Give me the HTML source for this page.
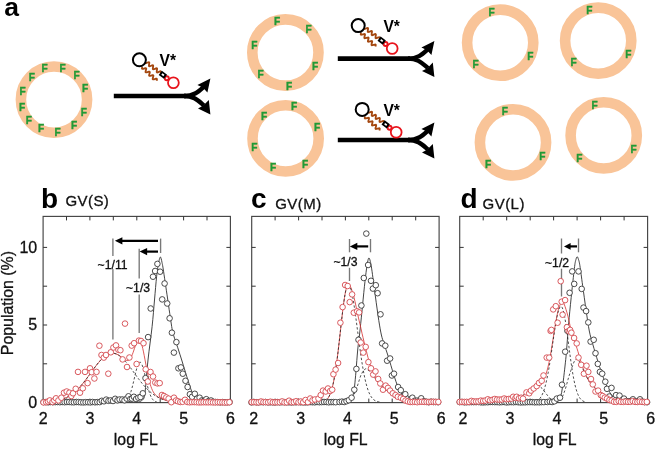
<!DOCTYPE html>
<html lang="en"><head><meta charset="utf-8"><title>Figure</title>
<style>html,body{margin:0;padding:0;background:#fff}body{width:655px;height:449px;overflow:hidden}svg{display:block}text{font-family:'Liberation Sans', Arial, Helvetica, sans-serif;fill:#111}.tk,.tt,.xl,.an,.yl{stroke:#111;stroke-width:0.3px}.F{font-size:10.2px;font-weight:bold;fill:#219A36;stroke:#219A36;stroke-width:0.35px;text-anchor:middle}.pl{font-size:28px;font-weight:bold;fill:#000}.tt{font-size:15px;letter-spacing:0.45px}.tk{font-size:16px}.xl{font-size:15.8px}.an{font-size:12.2px}</style>
</head><body>
<svg width="655" height="449" viewBox="0 0 655 449">
<rect width="655" height="449" fill="#fff"/>
<text x="4.2" y="16.2" class="pl" style="font-size:26.5px">a</text>
<circle cx="54.0" cy="99.6" r="33.1" fill="none" stroke="#F9C498" stroke-width="10.6"/>
<text x="44.6" y="71.5" class="F">F</text>
<text x="62.5" y="71.5" class="F">F</text>
<text x="76.7" y="79.2" class="F">F</text>
<text x="85.0" y="92.2" class="F">F</text>
<text x="83.8" y="115.5" class="F">F</text>
<text x="74.0" y="128.8" class="F">F</text>
<text x="57.6" y="136.2" class="F">F</text>
<text x="41.2" y="132.4" class="F">F</text>
<text x="28.9" y="123.5" class="F">F</text>
<text x="22.0" y="111.2" class="F">F</text>
<text x="22.5" y="95.2" class="F">F</text>
<text x="31.9" y="81.0" class="F">F</text>
<circle cx="285.4" cy="52.5" r="33.1" fill="none" stroke="#F9C498" stroke-width="10.6"/>
<text x="277.1" y="25.4" class="F">F</text>
<text x="308.7" y="33.2" class="F">F</text>
<text x="254.4" y="48.9" class="F">F</text>
<text x="315.2" y="69.5" class="F">F</text>
<text x="260.5" y="78.2" class="F">F</text>
<text x="289.1" y="90.0" class="F">F</text>
<circle cx="285.6" cy="138.4" r="33.1" fill="none" stroke="#F9C498" stroke-width="10.6"/>
<text x="294.1" y="110.2" class="F">F</text>
<text x="264.1" y="119.5" class="F">F</text>
<text x="317.2" y="131.2" class="F">F</text>
<text x="254.4" y="151.2" class="F">F</text>
<text x="305.1" y="167.9" class="F">F</text>
<text x="273.1" y="171.3" class="F">F</text>
<circle cx="500.2" cy="42.7" r="33.1" fill="none" stroke="#F9C498" stroke-width="10.6"/>
<text x="491.6" y="16.2" class="F">F</text>
<text x="530.4" y="60.0" class="F">F</text>
<text x="475.7" y="68.0" class="F">F</text>
<circle cx="598.2" cy="40.7" r="33.1" fill="none" stroke="#F9C498" stroke-width="10.6"/>
<text x="589.3" y="14.1" class="F">F</text>
<text x="628.4" y="57.9" class="F">F</text>
<text x="573.6" y="66.3" class="F">F</text>
<circle cx="513.0" cy="142.4" r="33.1" fill="none" stroke="#F9C498" stroke-width="10.6"/>
<text x="504.8" y="115.3" class="F">F</text>
<text x="542.3" y="160.2" class="F">F</text>
<text x="488.2" y="167.9" class="F">F</text>
<circle cx="603.7" cy="135.4" r="33.1" fill="none" stroke="#F9C498" stroke-width="10.6"/>
<text x="594.6" y="108.5" class="F">F</text>
<text x="633.7" y="152.9" class="F">F</text>
<text x="579.3" y="161.7" class="F">F</text>
<g transform="translate(0.0 0.0)">
<path d="M113.8 96 H186 " stroke="#000" stroke-width="4.6" fill="none"/>
<path d="M184 96 C194 96 198 92 203.5 87" stroke="#000" stroke-width="4.4" fill="none"/>
<path d="M184 96 C194 96 198 100.5 204 105.5" stroke="#000" stroke-width="4.4" fill="none"/>
<path d="M210.4 78.4 L197.4 85 L202.8 87.4 L207.4 92.4 Z" fill="#000"/>
<path d="M210.4 114.5 L198 108.4 L203.4 105.6 L208.8 100 Z" fill="#000"/>
</g>
<g transform="translate(0.0 0.0)">
<path d="M145.20 61.20 L145.01 62.25 L145.04 63.01 L145.43 63.31 L146.18 63.16 L147.15 62.73 L148.12 62.29 L148.87 62.14 L149.26 62.44 L149.29 63.20 L149.10 64.25 L148.91 65.30 L148.94 66.06 L149.33 66.36 L150.08 66.21 L151.05 65.78 L152.02 65.34 L152.77 65.19 L153.16 65.49 L153.19 66.25 L153.00 67.30 L152.81 68.35 L152.84 69.11 L153.23 69.41 L153.98 69.26 L154.95 68.83 L155.92 68.39 L156.67 68.24 L157.06 68.54 L157.09 69.30 L156.90 70.35 L156.71 71.40 L156.74 72.16 L157.13 72.46 L157.88 72.31 L158.85 71.88 L159.82 71.44 L160.57 71.29 L160.96 71.59 L160.99 72.35 L160.80 73.40" stroke="#A4470F" stroke-width="1.8" fill="none"/>
<path d="M142.30 66.80 L142.00 67.82 L141.95 68.59 L142.31 68.94 L143.07 68.87 L144.09 68.55 L145.10 68.23 L145.87 68.16 L146.22 68.51 L146.18 69.28 L145.88 70.30 L145.57 71.32 L145.53 72.09 L145.88 72.44 L146.65 72.37 L147.66 72.05 L148.68 71.73 L149.44 71.66 L149.80 72.01 L149.75 72.78 L149.45 73.80 L149.15 74.82 L149.10 75.59 L149.46 75.94 L150.22 75.87 L151.24 75.55 L152.25 75.23 L153.02 75.16 L153.37 75.51 L153.33 76.28 L153.03 77.30 L152.72 78.32 L152.68 79.09 L153.03 79.44 L153.80 79.37 L154.81 79.05 L155.83 78.73 L156.59 78.66 L156.95 79.01 L156.90 79.78 L156.60 80.80" stroke="#A4470F" stroke-width="1.8" fill="none"/>
<circle cx="139.4" cy="59.8" r="6.5" fill="#fff" stroke="#000" stroke-width="2"/>
<circle cx="166.8" cy="78.2" r="2.0" fill="none" stroke="#E8141C" stroke-width="1.9"/>
<circle cx="173.4" cy="82.7" r="5.4" fill="#fff" stroke="#E8141C" stroke-width="1.8"/>
<g transform="translate(162.9 74.8) rotate(37)"><rect x="-3.3" y="-2.6" width="6.6" height="5.2" fill="#000"/><rect x="-1.3" y="-0.9" width="2.6" height="1.8" fill="#fff"/></g>
</g>
<text x="159.6" y="65.8" style="font-size:15.6px;font-weight:bold;fill:#000">V*</text>
<g transform="translate(224.0 -37.4)">
<path d="M113.8 96 H186 " stroke="#000" stroke-width="4.6" fill="none"/>
<path d="M184 96 C194 96 198 92 203.5 87" stroke="#000" stroke-width="4.4" fill="none"/>
<path d="M184 96 C194 96 198 100.5 204 105.5" stroke="#000" stroke-width="4.4" fill="none"/>
<path d="M210.4 78.4 L197.4 85 L202.8 87.4 L207.4 92.4 Z" fill="#000"/>
<path d="M210.4 114.5 L198 108.4 L203.4 105.6 L208.8 100 Z" fill="#000"/>
</g>
<g transform="translate(218.8 -34.2)">
<path d="M145.20 61.20 L145.01 62.25 L145.04 63.01 L145.43 63.31 L146.18 63.16 L147.15 62.73 L148.12 62.29 L148.87 62.14 L149.26 62.44 L149.29 63.20 L149.10 64.25 L148.91 65.30 L148.94 66.06 L149.33 66.36 L150.08 66.21 L151.05 65.78 L152.02 65.34 L152.77 65.19 L153.16 65.49 L153.19 66.25 L153.00 67.30 L152.81 68.35 L152.84 69.11 L153.23 69.41 L153.98 69.26 L154.95 68.83 L155.92 68.39 L156.67 68.24 L157.06 68.54 L157.09 69.30 L156.90 70.35 L156.71 71.40 L156.74 72.16 L157.13 72.46 L157.88 72.31 L158.85 71.88 L159.82 71.44 L160.57 71.29 L160.96 71.59 L160.99 72.35 L160.80 73.40" stroke="#A4470F" stroke-width="1.8" fill="none"/>
<path d="M142.30 66.80 L142.00 67.82 L141.95 68.59 L142.31 68.94 L143.07 68.87 L144.09 68.55 L145.10 68.23 L145.87 68.16 L146.22 68.51 L146.18 69.28 L145.88 70.30 L145.57 71.32 L145.53 72.09 L145.88 72.44 L146.65 72.37 L147.66 72.05 L148.68 71.73 L149.44 71.66 L149.80 72.01 L149.75 72.78 L149.45 73.80 L149.15 74.82 L149.10 75.59 L149.46 75.94 L150.22 75.87 L151.24 75.55 L152.25 75.23 L153.02 75.16 L153.37 75.51 L153.33 76.28 L153.03 77.30 L152.72 78.32 L152.68 79.09 L153.03 79.44 L153.80 79.37 L154.81 79.05 L155.83 78.73 L156.59 78.66 L156.95 79.01 L156.90 79.78 L156.60 80.80" stroke="#A4470F" stroke-width="1.8" fill="none"/>
<circle cx="139.4" cy="59.8" r="6.5" fill="#fff" stroke="#000" stroke-width="2"/>
<circle cx="166.8" cy="78.2" r="2.0" fill="none" stroke="#E8141C" stroke-width="1.9"/>
<circle cx="173.4" cy="82.7" r="5.4" fill="#fff" stroke="#E8141C" stroke-width="1.8"/>
<g transform="translate(162.9 74.8) rotate(37)"><rect x="-3.3" y="-2.6" width="6.6" height="5.2" fill="#000"/><rect x="-1.3" y="-0.9" width="2.6" height="1.8" fill="#fff"/></g>
</g>
<text x="383.4" y="32.0" style="font-size:15.6px;font-weight:bold;fill:#000">V*</text>
<g transform="translate(224.0 44.0)">
<path d="M113.8 96 H186 " stroke="#000" stroke-width="4.6" fill="none"/>
<path d="M184 96 C194 96 198 92 203.5 87" stroke="#000" stroke-width="4.4" fill="none"/>
<path d="M184 96 C194 96 198 100.5 204 105.5" stroke="#000" stroke-width="4.4" fill="none"/>
<path d="M210.4 78.4 L197.4 85 L202.8 87.4 L207.4 92.4 Z" fill="#000"/>
<path d="M210.4 114.5 L198 108.4 L203.4 105.6 L208.8 100 Z" fill="#000"/>
</g>
<g transform="translate(222.8 49.6)">
<path d="M145.20 61.20 L145.01 62.25 L145.04 63.01 L145.43 63.31 L146.18 63.16 L147.15 62.73 L148.12 62.29 L148.87 62.14 L149.26 62.44 L149.29 63.20 L149.10 64.25 L148.91 65.30 L148.94 66.06 L149.33 66.36 L150.08 66.21 L151.05 65.78 L152.02 65.34 L152.77 65.19 L153.16 65.49 L153.19 66.25 L153.00 67.30 L152.81 68.35 L152.84 69.11 L153.23 69.41 L153.98 69.26 L154.95 68.83 L155.92 68.39 L156.67 68.24 L157.06 68.54 L157.09 69.30 L156.90 70.35 L156.71 71.40 L156.74 72.16 L157.13 72.46 L157.88 72.31 L158.85 71.88 L159.82 71.44 L160.57 71.29 L160.96 71.59 L160.99 72.35 L160.80 73.40" stroke="#A4470F" stroke-width="1.8" fill="none"/>
<path d="M142.30 66.80 L142.00 67.82 L141.95 68.59 L142.31 68.94 L143.07 68.87 L144.09 68.55 L145.10 68.23 L145.87 68.16 L146.22 68.51 L146.18 69.28 L145.88 70.30 L145.57 71.32 L145.53 72.09 L145.88 72.44 L146.65 72.37 L147.66 72.05 L148.68 71.73 L149.44 71.66 L149.80 72.01 L149.75 72.78 L149.45 73.80 L149.15 74.82 L149.10 75.59 L149.46 75.94 L150.22 75.87 L151.24 75.55 L152.25 75.23 L153.02 75.16 L153.37 75.51 L153.33 76.28 L153.03 77.30 L152.72 78.32 L152.68 79.09 L153.03 79.44 L153.80 79.37 L154.81 79.05 L155.83 78.73 L156.59 78.66 L156.95 79.01 L156.90 79.78 L156.60 80.80" stroke="#A4470F" stroke-width="1.8" fill="none"/>
<circle cx="139.4" cy="59.8" r="6.5" fill="#fff" stroke="#000" stroke-width="2"/>
<circle cx="166.8" cy="78.2" r="2.0" fill="none" stroke="#E8141C" stroke-width="1.9"/>
<circle cx="173.4" cy="82.7" r="5.4" fill="#fff" stroke="#E8141C" stroke-width="1.8"/>
<g transform="translate(162.9 74.8) rotate(37)"><rect x="-3.3" y="-2.6" width="6.6" height="5.2" fill="#000"/><rect x="-1.3" y="-0.9" width="2.6" height="1.8" fill="#fff"/></g>
</g>
<text x="383.4" y="115.9" style="font-size:15.6px;font-weight:bold;fill:#000">V*</text>
<g>
<path d="M112.9 238.6 V339.6" stroke="#787878" stroke-width="1.35" fill="none"/><path d="M139.2 248.8 V333.0" stroke="#787878" stroke-width="1.35" fill="none"/><path d="M160.6 238.6 V253.0" stroke="#787878" stroke-width="1.35" fill="none"/><path d="M158.0 240.8 H121.4" stroke="#000" stroke-width="2.2" fill="none"/><path d="M114.9 240.8 L122.4 237.2 L122.4 244.4 Z" fill="#000"/><path d="M158.0 251.6 H146.1" stroke="#000" stroke-width="2.2" fill="none"/><path d="M139.6 251.6 L147.1 248.0 L147.1 255.2 Z" fill="#000"/><rect x="96.5" y="256" width="32" height="13.2" fill="#fff"/><rect x="124.5" y="278.5" width="26" height="16" fill="#fff"/><text x="97.6" y="269.3" class="an">~1/11</text><text x="126" y="291.6" class="an">~1/3</text>
<path d="M138.00 402.20 C138.50 402.00 140.00 401.70 141.00 401.00 C142.00 400.30 143.28 399.83 144.00 398.00 C144.72 396.17 144.63 396.33 145.30 390.00 C145.97 383.67 146.87 370.57 148.00 360.00 C149.13 349.43 151.02 336.60 152.10 326.60 C153.18 316.60 153.75 308.32 154.50 300.00 C155.25 291.68 155.95 282.70 156.60 276.70 C157.25 270.70 157.93 266.90 158.40 264.00 C158.87 261.10 159.08 260.47 159.40 259.30 C159.72 258.13 160.00 257.08 160.30 257.00 C160.60 256.92 160.92 257.88 161.20 258.80 C161.48 259.72 161.67 260.80 162.00 262.50 C162.33 264.20 162.28 263.08 163.20 269.00 C164.12 274.92 166.08 288.40 167.50 298.00 C168.92 307.60 170.68 320.38 171.70 326.60 C172.72 332.82 172.58 331.77 173.60 335.30 C174.62 338.83 176.40 343.52 177.80 347.80 C179.20 352.08 180.52 356.25 182.00 361.00 C183.48 365.75 185.45 372.30 186.70 376.30 C187.95 380.30 188.60 382.32 189.50 385.00 C190.40 387.68 191.07 390.18 192.10 392.40 C193.13 394.62 194.22 396.87 195.70 398.30 C197.18 399.73 198.28 400.33 201.00 401.00 C203.72 401.67 210.17 402.08 212.00 402.30" fill="none" stroke="#222" stroke-width="0.85"/>
<path d="M46.00 402.09 C46.25 402.07 47.00 402.03 47.50 401.99 C48.00 401.95 48.50 401.91 49.00 401.87 C49.50 401.83 50.00 401.78 50.50 401.73 C51.00 401.68 51.50 401.62 52.00 401.56 C52.50 401.50 53.00 401.43 53.50 401.36 C54.00 401.29 54.50 401.21 55.00 401.12 C55.50 401.03 56.00 400.94 56.50 400.84 C57.00 400.74 57.50 400.63 58.00 400.52 C58.50 400.40 59.00 400.27 59.50 400.14 C60.00 400.00 60.50 399.86 61.00 399.70 C61.50 399.55 62.00 399.38 62.50 399.20 C63.00 399.02 63.50 398.83 64.00 398.63 C64.50 398.43 65.00 398.21 65.50 397.98 C66.00 397.75 66.50 397.51 67.00 397.25 C67.50 396.99 68.00 396.72 68.50 396.43 C69.00 396.14 69.50 395.84 70.00 395.51 C70.50 395.19 71.00 394.85 71.50 394.50 C72.00 394.15 72.50 393.77 73.00 393.38 C73.50 392.99 74.00 392.59 74.50 392.16 C75.00 391.74 75.50 391.29 76.00 390.83 C76.50 390.37 77.00 389.89 77.50 389.40 C78.00 388.90 78.50 388.39 79.00 387.86 C79.50 387.33 80.00 386.78 80.50 386.22 C81.00 385.65 81.50 385.07 82.00 384.48 C82.50 383.89 83.00 383.28 83.50 382.65 C84.00 382.03 84.50 381.39 85.00 380.75 C85.50 380.10 86.00 379.44 86.50 378.78 C87.00 378.11 87.50 377.43 88.00 376.75 C88.50 376.07 89.00 375.38 89.50 374.69 C90.00 374.00 90.50 373.30 91.00 372.60 C91.50 371.91 92.00 371.21 92.50 370.52 C93.00 369.83 93.50 369.14 94.00 368.46 C94.50 367.78 95.00 367.10 95.50 366.44 C96.00 365.78 96.50 365.13 97.00 364.49 C97.50 363.85 98.00 363.23 98.50 362.63 C99.00 362.02 99.50 361.44 100.00 360.87 C100.50 360.31 101.00 359.77 101.50 359.26 C102.00 358.74 102.50 358.25 103.00 357.79 C103.50 357.34 104.00 356.90 104.50 356.51 C105.00 356.11 105.50 355.74 106.00 355.41 C106.50 355.08 107.00 354.78 107.50 354.53 C108.00 354.27 108.50 354.04 109.00 353.86 C109.50 353.68 110.00 353.53 110.50 353.42 C111.00 353.32 111.50 353.25 112.00 353.22 C112.50 353.20 113.00 353.21 113.50 353.26 C114.00 353.32 114.50 353.41 115.00 353.54 C115.50 353.67 116.00 353.84 116.50 354.05 C117.00 354.26 117.50 354.50 118.00 354.78 C118.50 355.05 119.00 355.37 119.50 355.70 C120.00 356.04 120.50 356.41 121.00 356.79 C121.50 357.16 122.00 357.57 122.50 357.96 C123.00 358.34 123.50 358.75 124.00 359.10 C124.50 359.45 125.00 359.80 125.50 360.03 C126.00 360.27 126.50 360.48 127.00 360.51 C127.50 360.55 128.00 360.50 128.50 360.24 C129.00 359.97 129.50 359.57 130.00 358.93 C130.50 358.29 131.00 357.44 131.50 356.41 C132.00 355.38 132.50 354.10 133.00 352.76 C133.50 351.43 134.00 349.86 134.50 348.42 C135.00 346.98 135.50 345.40 136.00 344.15 C136.50 342.91 137.00 341.68 137.50 340.95 C138.00 340.22 138.50 339.73 139.00 339.78 C139.50 339.83 140.00 340.30 140.50 341.25 C141.00 342.20 141.50 343.68 142.00 345.46 C142.50 347.24 143.00 349.54 143.50 351.92 C144.00 354.30 144.50 357.07 145.00 359.72 C145.50 362.38 146.00 365.23 146.50 367.84 C147.00 370.44 147.50 373.05 148.00 375.36 C148.50 377.68 149.00 379.84 149.50 381.73 C150.00 383.62 150.50 385.28 151.00 386.73 C151.50 388.18 152.00 389.37 152.50 390.43 C153.00 391.49 153.50 392.32 154.00 393.08 C154.50 393.83 155.00 394.42 155.50 394.95 C156.00 395.49 156.50 395.91 157.00 396.31 C157.50 396.71 158.00 397.03 158.50 397.33 C159.00 397.64 159.50 397.89 160.00 398.14 C160.50 398.38 161.00 398.60 161.50 398.80 C162.00 399.01 162.50 399.19 163.00 399.37 C163.50 399.54 164.00 399.70 164.50 399.85 C165.00 400.00 165.50 400.14 166.00 400.27 C166.50 400.40 167.00 400.52 167.50 400.63 C168.00 400.74 168.50 400.84 169.00 400.94 C169.50 401.04 170.00 401.12 170.50 401.20 C171.00 401.29 171.50 401.36 172.00 401.43 C172.50 401.50 173.00 401.56 173.50 401.62 C174.00 401.68 174.50 401.73 175.00 401.78 C175.50 401.83 176.00 401.87 176.50 401.91 C177.00 401.95 177.50 401.99 178.00 402.02 C178.50 402.06 179.25 402.10 179.50 402.12" fill="none" stroke="#D83A3A" stroke-width="0.85"/>
<path d="M46.00 402.09 C46.25 402.07 47.00 402.03 47.50 401.99 C48.00 401.95 48.50 401.91 49.00 401.87 C49.50 401.83 50.00 401.78 50.50 401.73 C51.00 401.68 51.50 401.62 52.00 401.56 C52.50 401.50 53.00 401.43 53.50 401.36 C54.00 401.29 54.50 401.21 55.00 401.12 C55.50 401.03 56.00 400.94 56.50 400.84 C57.00 400.74 57.50 400.63 58.00 400.52 C58.50 400.40 59.00 400.27 59.50 400.14 C60.00 400.00 60.50 399.86 61.00 399.70 C61.50 399.55 62.00 399.38 62.50 399.20 C63.00 399.02 63.50 398.83 64.00 398.63 C64.50 398.43 65.00 398.21 65.50 397.98 C66.00 397.75 66.50 397.51 67.00 397.25 C67.50 396.99 68.00 396.72 68.50 396.43 C69.00 396.14 69.50 395.84 70.00 395.51 C70.50 395.19 71.00 394.85 71.50 394.50 C72.00 394.15 72.50 393.77 73.00 393.38 C73.50 392.99 74.00 392.59 74.50 392.16 C75.00 391.74 75.50 391.29 76.00 390.83 C76.50 390.37 77.00 389.89 77.50 389.40 C78.00 388.90 78.50 388.39 79.00 387.86 C79.50 387.33 80.00 386.78 80.50 386.22 C81.00 385.65 81.50 385.07 82.00 384.48 C82.50 383.89 83.00 383.28 83.50 382.65 C84.00 382.03 84.50 381.39 85.00 380.75 C85.50 380.10 86.00 379.44 86.50 378.78 C87.00 378.11 87.50 377.43 88.00 376.75 C88.50 376.07 89.00 375.38 89.50 374.69 C90.00 374.00 90.50 373.30 91.00 372.60 C91.50 371.91 92.00 371.21 92.50 370.52 C93.00 369.83 93.50 369.14 94.00 368.46 C94.50 367.78 95.00 367.10 95.50 366.44 C96.00 365.78 96.50 365.13 97.00 364.49 C97.50 363.85 98.00 363.23 98.50 362.63 C99.00 362.02 99.50 361.44 100.00 360.87 C100.50 360.31 101.00 359.77 101.50 359.26 C102.00 358.74 102.50 358.25 103.00 357.79 C103.50 357.34 104.00 356.90 104.50 356.51 C105.00 356.11 105.50 355.74 106.00 355.41 C106.50 355.08 107.00 354.78 107.50 354.53 C108.00 354.27 108.50 354.04 109.00 353.86 C109.50 353.68 110.00 353.53 110.50 353.42 C111.00 353.32 111.50 353.25 112.00 353.22 C112.50 353.20 113.00 353.21 113.50 353.26 C114.00 353.32 114.50 353.41 115.00 353.54 C115.50 353.67 116.00 353.85 116.50 354.06 C117.00 354.26 117.50 354.51 118.00 354.80 C118.50 355.08 119.00 355.40 119.50 355.75 C120.00 356.11 120.50 356.50 121.00 356.92 C121.50 357.33 122.00 357.79 122.50 358.26 C123.00 358.74 123.50 359.25 124.00 359.78 C124.50 360.31 125.00 360.87 125.50 361.44 C126.00 362.02 126.50 362.62 127.00 363.24 C127.50 363.85 128.00 364.49 128.50 365.13 C129.00 365.78 129.50 366.44 130.00 367.11 C130.50 367.78 131.00 368.46 131.50 369.14 C132.00 369.83 132.50 370.52 133.00 371.21 C133.50 371.91 134.00 372.61 134.50 373.30 C135.00 373.99 135.50 374.69 136.00 375.38 C136.50 376.07 137.00 376.75 137.50 377.43 C138.00 378.11 138.50 378.78 139.00 379.44 C139.50 380.10 140.00 380.75 140.50 381.39 C141.00 382.03 141.50 382.66 142.00 383.27 C142.50 383.88 143.00 384.49 143.50 385.07 C144.00 385.65 144.50 386.22 145.00 386.78 C145.50 387.33 146.00 387.86 146.50 388.38 C147.00 388.90 147.50 389.41 148.00 389.89 C148.50 390.37 149.00 390.84 149.50 391.29 C150.00 391.74 150.50 392.17 151.00 392.58 C151.50 392.99 152.00 393.39 152.50 393.77 C153.00 394.15 153.50 394.51 154.00 394.85 C154.50 395.19 155.00 395.52 155.50 395.83 C156.00 396.14 156.50 396.43 157.00 396.71 C157.50 396.99 158.00 397.25 158.50 397.50 C159.00 397.75 159.50 397.99 160.00 398.21 C160.50 398.43 161.00 398.63 161.50 398.83 C162.00 399.02 162.50 399.20 163.00 399.38 C163.50 399.55 164.00 399.71 164.50 399.85 C165.00 400.00 165.50 400.14 166.00 400.27 C166.50 400.40 167.00 400.52 167.50 400.63 C168.00 400.74 168.50 400.84 169.00 400.94 C169.50 401.04 170.00 401.12 170.50 401.20 C171.00 401.29 171.50 401.36 172.00 401.43 C172.50 401.50 173.00 401.56 173.50 401.62 C174.00 401.68 174.75 401.75 175.00 401.78" fill="none" stroke="#222" stroke-width="0.8" stroke-dasharray="2.4 2"/>
<path d="M123.00 402.10 C123.17 402.05 123.67 401.94 124.00 401.82 C124.33 401.70 124.67 401.57 125.00 401.38 C125.33 401.20 125.67 401.00 126.00 400.73 C126.33 400.46 126.67 400.16 127.00 399.78 C127.33 399.40 127.67 398.96 128.00 398.44 C128.33 397.92 128.67 397.33 129.00 396.65 C129.33 395.96 129.67 395.19 130.00 394.32 C130.33 393.45 130.67 392.48 131.00 391.42 C131.33 390.37 131.67 389.20 132.00 387.97 C132.33 386.75 132.67 385.41 133.00 384.05 C133.33 382.69 133.67 381.23 134.00 379.80 C134.33 378.37 134.67 376.87 135.00 375.45 C135.33 374.03 135.67 372.58 136.00 371.27 C136.33 369.96 136.67 368.68 137.00 367.59 C137.33 366.49 137.67 365.48 138.00 364.69 C138.33 363.90 138.67 363.25 139.00 362.84 C139.33 362.42 139.67 362.20 140.00 362.20 C140.33 362.20 140.67 362.42 141.00 362.84 C141.33 363.25 141.67 363.90 142.00 364.69 C142.33 365.48 142.67 366.49 143.00 367.59 C143.33 368.68 143.67 369.96 144.00 371.27 C144.33 372.58 144.67 374.03 145.00 375.45 C145.33 376.87 145.67 378.37 146.00 379.80 C146.33 381.23 146.67 382.69 147.00 384.05 C147.33 385.41 147.67 386.75 148.00 387.97 C148.33 389.20 148.67 390.37 149.00 391.42 C149.33 392.48 149.67 393.45 150.00 394.32 C150.33 395.19 150.67 395.96 151.00 396.65 C151.33 397.33 151.67 397.92 152.00 398.44 C152.33 398.96 152.67 399.40 153.00 399.78 C153.33 400.16 153.67 400.46 154.00 400.73 C154.33 401.00 154.67 401.20 155.00 401.38 C155.33 401.57 155.67 401.70 156.00 401.82 C156.33 401.94 156.83 402.05 157.00 402.10" fill="none" stroke="#222" stroke-width="0.8" stroke-dasharray="2.4 2"/>
<rect x="43.1" y="216.4" width="187.3" height="186.2" fill="none" stroke="#444" stroke-width="1.15"/>
<path d="M66.5 402.6 v-4 M66.5 216.4 v4 M89.9 402.6 v-4 M89.9 216.4 v4 M113.3 402.6 v-4 M113.3 216.4 v4 M136.8 402.6 v-4 M136.8 216.4 v4 M160.2 402.6 v-4 M160.2 216.4 v4 M183.6 402.6 v-4 M183.6 216.4 v4 M207.0 402.6 v-4 M207.0 216.4 v4 M43.1 363.8 h4 M230.4 363.8 h-4 M43.1 325.0 h4 M230.4 325.0 h-4 M43.1 286.2 h4 M230.4 286.2 h-4 M43.1 247.4 h4 M230.4 247.4 h-4 " stroke="#333" stroke-width="1" fill="none"/>
<g fill="#fff" stroke="#383838" stroke-width="0.9"><circle cx="43.5" cy="402.1" r="2.8"/><circle cx="45.8" cy="402.1" r="2.8"/><circle cx="48.2" cy="402.3" r="2.8"/><circle cx="50.5" cy="402.0" r="2.8"/><circle cx="52.9" cy="402.2" r="2.8"/><circle cx="55.2" cy="402.1" r="2.8"/><circle cx="57.5" cy="402.0" r="2.8"/><circle cx="59.9" cy="402.2" r="2.8"/><circle cx="62.2" cy="402.0" r="2.8"/><circle cx="64.6" cy="402.2" r="2.8"/><circle cx="66.9" cy="402.0" r="2.8"/><circle cx="69.2" cy="402.0" r="2.8"/><circle cx="71.6" cy="402.2" r="2.8"/><circle cx="73.9" cy="402.3" r="2.8"/><circle cx="76.3" cy="402.0" r="2.8"/><circle cx="78.6" cy="402.1" r="2.8"/><circle cx="80.9" cy="402.3" r="2.8"/><circle cx="83.3" cy="402.4" r="2.8"/><circle cx="85.6" cy="402.2" r="2.8"/><circle cx="88.0" cy="402.2" r="2.8"/><circle cx="90.3" cy="402.4" r="2.8"/><circle cx="92.6" cy="402.0" r="2.8"/><circle cx="95.0" cy="402.3" r="2.8"/><circle cx="97.3" cy="402.1" r="2.8"/><circle cx="99.7" cy="402.1" r="2.8"/><circle cx="101.8" cy="400.8" r="2.8"/><circle cx="104.0" cy="401.3" r="2.8"/><circle cx="106.2" cy="399.6" r="2.8"/><circle cx="108.5" cy="400.8" r="2.8"/><circle cx="110.7" cy="400.4" r="2.8"/><circle cx="113.0" cy="401.0" r="2.8"/><circle cx="115.2" cy="398.8" r="2.8"/><circle cx="117.5" cy="400.3" r="2.8"/><circle cx="119.6" cy="399.5" r="2.8"/><circle cx="122.3" cy="399.5" r="2.8"/><circle cx="124.5" cy="400.3" r="2.8"/><circle cx="126.7" cy="398.6" r="2.8"/><circle cx="128.5" cy="396.3" r="2.8"/><circle cx="130.3" cy="399.0" r="2.8"/><circle cx="132.0" cy="398.6" r="2.8"/><circle cx="133.9" cy="396.8" r="2.8"/><circle cx="136.1" cy="399.0" r="2.8"/><circle cx="138.3" cy="397.7" r="2.8"/><circle cx="140.5" cy="397.0" r="2.8"/><circle cx="142.8" cy="393.3" r="2.8"/><circle cx="145.5" cy="378.1" r="2.8"/><circle cx="148.1" cy="337.1" r="2.8"/><circle cx="150.7" cy="308.5" r="2.8"/><circle cx="153.0" cy="276.7" r="2.8"/><circle cx="155.1" cy="271.0" r="2.8"/><circle cx="157.4" cy="263.9" r="2.8"/><circle cx="160.1" cy="271.7" r="2.8"/><circle cx="162.2" cy="299.4" r="2.8"/><circle cx="164.6" cy="283.5" r="2.8"/><circle cx="167.2" cy="303.5" r="2.8"/><circle cx="169.6" cy="318.3" r="2.8"/><circle cx="171.9" cy="332.7" r="2.8"/><circle cx="173.9" cy="352.6" r="2.8"/><circle cx="176.4" cy="342.1" r="2.8"/><circle cx="178.4" cy="368.3" r="2.8"/><circle cx="180.9" cy="367.4" r="2.8"/><circle cx="182.8" cy="373.7" r="2.8"/><circle cx="185.5" cy="380.8" r="2.8"/><circle cx="187.6" cy="387.0" r="2.8"/><circle cx="189.9" cy="394.2" r="2.8"/><circle cx="192.1" cy="396.8" r="2.8"/><circle cx="194.8" cy="393.8" r="2.8"/><circle cx="197.1" cy="398.6" r="2.8"/><circle cx="199.6" cy="397.7" r="2.8"/><circle cx="201.9" cy="400.4" r="2.8"/><circle cx="204.0" cy="400.8" r="2.8"/><circle cx="206.3" cy="399.2" r="2.8"/><circle cx="208.6" cy="401.0" r="2.8"/><circle cx="211.0" cy="400.5" r="2.8"/><circle cx="213.3" cy="401.8" r="2.8"/><circle cx="215.6" cy="402.0" r="2.8"/><circle cx="217.9" cy="402.1" r="2.8"/><circle cx="220.3" cy="402.3" r="2.8"/><circle cx="222.6" cy="402.1" r="2.8"/><circle cx="225.0" cy="402.2" r="2.8"/><circle cx="227.3" cy="402.3" r="2.8"/><circle cx="229.6" cy="402.1" r="2.8"/></g>
<g fill="#fff" stroke="#D5484E" stroke-width="0.9"><circle cx="43.5" cy="402.4" r="2.8"/><circle cx="46.2" cy="402.2" r="2.8"/><circle cx="48.0" cy="401.5" r="2.8"/><circle cx="49.8" cy="400.4" r="2.8"/><circle cx="52.5" cy="402.0" r="2.8"/><circle cx="54.3" cy="400.5" r="2.8"/><circle cx="56.0" cy="398.3" r="2.8"/><circle cx="58.4" cy="400.4" r="2.8"/><circle cx="61.4" cy="397.7" r="2.8"/><circle cx="64.0" cy="392.7" r="2.8"/><circle cx="66.7" cy="391.5" r="2.8"/><circle cx="69.4" cy="392.7" r="2.8"/><circle cx="71.3" cy="396.0" r="2.8"/><circle cx="73.0" cy="393.3" r="2.8"/><circle cx="75.7" cy="388.8" r="2.8"/><circle cx="78.0" cy="371.9" r="2.8"/><circle cx="80.0" cy="392.7" r="2.8"/><circle cx="82.8" cy="388.3" r="2.8"/><circle cx="85.0" cy="371.9" r="2.8"/><circle cx="87.6" cy="383.1" r="2.8"/><circle cx="90.0" cy="368.3" r="2.8"/><circle cx="91.7" cy="372.2" r="2.8"/><circle cx="94.4" cy="378.5" r="2.8"/><circle cx="96.5" cy="371.9" r="2.8"/><circle cx="99.4" cy="345.7" r="2.8"/><circle cx="101.5" cy="355.0" r="2.8"/><circle cx="103.8" cy="357.6" r="2.8"/><circle cx="106.0" cy="355.0" r="2.8"/><circle cx="108.3" cy="373.7" r="2.8"/><circle cx="110.8" cy="352.3" r="2.8"/><circle cx="113.4" cy="347.5" r="2.8"/><circle cx="116.0" cy="345.4" r="2.8"/><circle cx="118.4" cy="349.8" r="2.8"/><circle cx="120.4" cy="350.2" r="2.8"/><circle cx="122.6" cy="359.4" r="2.8"/><circle cx="125.0" cy="323.6" r="2.8"/><circle cx="127.0" cy="367.0" r="2.8"/><circle cx="129.4" cy="357.5" r="2.8"/><circle cx="131.7" cy="345.6" r="2.8"/><circle cx="134.1" cy="343.2" r="2.8"/><circle cx="136.6" cy="364.0" r="2.8"/><circle cx="138.9" cy="340.6" r="2.8"/><circle cx="141.0" cy="341.0" r="2.8"/><circle cx="143.5" cy="343.2" r="2.8"/><circle cx="145.7" cy="369.3" r="2.8"/><circle cx="147.8" cy="381.5" r="2.8"/><circle cx="150.5" cy="372.0" r="2.8"/><circle cx="153.0" cy="376.5" r="2.8"/><circle cx="155.3" cy="382.6" r="2.8"/><circle cx="157.5" cy="383.4" r="2.8"/><circle cx="159.7" cy="383.1" r="2.8"/><circle cx="161.9" cy="395.0" r="2.8"/><circle cx="164.0" cy="396.0" r="2.8"/><circle cx="166.3" cy="397.4" r="2.8"/><circle cx="168.6" cy="398.6" r="2.8"/><circle cx="171.3" cy="402.2" r="2.8"/><circle cx="174.0" cy="397.7" r="2.8"/><circle cx="176.0" cy="400.5" r="2.8"/><circle cx="177.9" cy="401.3" r="2.8"/><circle cx="180.3" cy="402.0" r="2.8"/><circle cx="182.6" cy="401.8" r="2.8"/><circle cx="185.0" cy="399.8" r="2.8"/><circle cx="187.3" cy="402.0" r="2.8"/><circle cx="189.6" cy="402.3" r="2.8"/><circle cx="191.9" cy="402.1" r="2.8"/><circle cx="194.3" cy="402.1" r="2.8"/><circle cx="196.6" cy="402.2" r="2.8"/><circle cx="199.0" cy="402.4" r="2.8"/><circle cx="201.3" cy="402.3" r="2.8"/><circle cx="203.6" cy="402.2" r="2.8"/><circle cx="206.0" cy="402.3" r="2.8"/><circle cx="208.3" cy="402.3" r="2.8"/><circle cx="210.7" cy="402.2" r="2.8"/><circle cx="213.0" cy="402.4" r="2.8"/><circle cx="215.3" cy="402.4" r="2.8"/><circle cx="217.7" cy="402.2" r="2.8"/><circle cx="220.0" cy="402.3" r="2.8"/><circle cx="222.4" cy="402.3" r="2.8"/><circle cx="224.7" cy="402.5" r="2.8"/><circle cx="227.0" cy="402.4" r="2.8"/><circle cx="229.4" cy="402.2" r="2.8"/></g>
<text x="41.0" y="208.2" class="pl">b</text>
<text x="65.4" y="206.4" class="tt">GV(S)</text>
<text x="43.1" y="424.4" class="tk" text-anchor="middle">2</text>
<text x="89.9" y="424.4" class="tk" text-anchor="middle">3</text>
<text x="136.8" y="424.4" class="tk" text-anchor="middle">4</text>
<text x="183.6" y="424.4" class="tk" text-anchor="middle">5</text>
<text x="230.4" y="424.4" class="tk" text-anchor="middle">6</text>
<text x="135.8" y="445" class="xl" text-anchor="middle">log FL</text>
<text x="37.2" y="407.8" class="tk" text-anchor="end">0</text>
<text x="37.2" y="330.2" class="tk" text-anchor="end">5</text>
<text x="37.2" y="252.6" class="tk" text-anchor="end">10</text>
</g>
<g>
<path d="M349.5 239.0 V252.3" stroke="#787878" stroke-width="1.35" fill="none"/><path d="M349.5 267.8 V281.0" stroke="#787878" stroke-width="1.35" fill="none"/><path d="M370.5 239.0 V252.3" stroke="#787878" stroke-width="1.35" fill="none"/><path d="M368.2 246.4 H356.3" stroke="#000" stroke-width="2.2" fill="none"/><path d="M349.8 246.4 L357.3 242.8 L357.3 250.0 Z" fill="#000"/><text x="333.4" y="265.8" class="an">~1/3</text>
<path d="M346.00 402.20 C346.47 402.05 347.88 401.75 348.80 401.30 C349.72 400.85 350.75 400.72 351.50 399.50 C352.25 398.28 352.78 396.25 353.30 394.00 C353.82 391.75 354.15 389.83 354.60 386.00 C355.05 382.17 355.48 377.00 356.00 371.00 C356.52 365.00 357.10 356.17 357.70 350.00 C358.30 343.83 358.90 340.33 359.60 334.00 C360.30 327.67 361.10 319.88 361.90 312.00 C362.70 304.12 363.63 293.88 364.40 286.70 C365.17 279.52 365.92 273.27 366.50 268.90 C367.08 264.53 367.48 262.32 367.90 260.50 C368.32 258.68 368.62 257.92 369.00 258.00 C369.38 258.08 369.75 259.18 370.20 261.00 C370.65 262.82 370.85 263.12 371.70 268.90 C372.55 274.68 374.12 287.08 375.30 295.70 C376.48 304.32 377.78 314.05 378.80 320.60 C379.82 327.15 380.55 331.20 381.40 335.00 C382.25 338.80 382.75 339.78 383.90 343.40 C385.05 347.02 386.67 351.50 388.30 356.70 C389.93 361.90 392.07 369.55 393.70 374.60 C395.33 379.65 396.47 383.43 398.10 387.00 C399.73 390.57 401.72 393.85 403.50 396.00 C405.28 398.15 406.43 398.95 408.80 399.90 C411.17 400.85 414.50 401.30 417.70 401.70 C420.90 402.10 426.28 402.20 428.00 402.30" fill="none" stroke="#222" stroke-width="0.85"/>
<path d="M322.00 402.04 C322.17 402.00 322.67 401.90 323.00 401.80 C323.33 401.71 323.67 401.60 324.00 401.46 C324.33 401.32 324.67 401.17 325.00 400.98 C325.33 400.79 325.67 400.57 326.00 400.31 C326.33 400.04 326.67 399.75 327.00 399.39 C327.33 399.03 327.67 398.64 328.00 398.16 C328.33 397.69 328.67 397.16 329.00 396.54 C329.33 395.92 329.67 395.24 330.00 394.45 C330.33 393.66 330.67 392.78 331.00 391.79 C331.33 390.80 331.67 389.71 332.00 388.48 C332.33 387.26 332.67 385.92 333.00 384.44 C333.33 382.96 333.67 381.36 334.00 379.61 C334.33 377.86 334.67 375.97 335.00 373.95 C335.33 371.92 335.67 369.74 336.00 367.44 C336.33 365.15 336.67 362.70 337.00 360.15 C337.33 357.60 337.67 354.91 338.00 352.15 C338.33 349.39 338.67 346.50 339.00 343.59 C339.33 340.67 339.67 337.66 340.00 334.67 C340.33 331.67 340.67 328.61 341.00 325.63 C341.33 322.65 341.67 319.65 342.00 316.79 C342.33 313.92 342.67 311.08 343.00 308.44 C343.33 305.79 343.67 303.24 344.00 300.92 C344.33 298.60 344.67 296.43 345.00 294.54 C345.33 292.65 345.67 290.96 346.00 289.59 C346.33 288.21 346.67 287.08 347.00 286.28 C347.33 285.48 347.67 284.99 348.00 284.78 C348.33 284.58 348.67 284.86 349.00 285.03 C349.33 285.21 349.67 285.36 350.00 285.85 C350.33 286.34 350.67 287.17 351.00 287.96 C351.33 288.75 351.67 289.65 352.00 290.59 C352.33 291.53 352.67 292.48 353.00 293.61 C353.33 294.73 353.67 296.02 354.00 297.34 C354.33 298.66 354.67 300.05 355.00 301.53 C355.33 303.00 355.67 304.60 356.00 306.21 C356.33 307.83 356.67 309.62 357.00 311.20 C357.33 312.79 357.67 314.25 358.00 315.75 C358.33 317.24 358.67 318.73 359.00 320.16 C359.33 321.59 359.67 322.94 360.00 324.35 C360.33 325.75 360.67 327.09 361.00 328.58 C361.33 330.07 361.67 331.80 362.00 333.28 C362.33 334.76 362.67 336.06 363.00 337.45 C363.33 338.84 363.67 340.24 364.00 341.63 C364.33 343.02 364.67 344.50 365.00 345.79 C365.33 347.07 365.67 348.02 366.00 349.34 C366.33 350.67 366.67 352.36 367.00 353.73 C367.33 355.10 367.67 356.37 368.00 357.57 C368.33 358.77 368.67 359.77 369.00 360.91 C369.33 362.04 369.67 363.28 370.00 364.37 C370.33 365.45 370.67 366.47 371.00 367.43 C371.33 368.39 371.67 369.29 372.00 370.15 C372.33 371.01 372.67 371.81 373.00 372.58 C373.33 373.34 373.67 374.04 374.00 374.73 C374.33 375.41 374.67 376.05 375.00 376.67 C375.33 377.29 375.67 377.88 376.00 378.45 C376.33 379.03 376.67 379.57 377.00 380.11 C377.33 380.65 377.67 381.16 378.00 381.67 C378.33 382.17 378.67 382.66 379.00 383.15 C379.33 383.63 379.67 384.15 380.00 384.57 C380.33 384.98 380.67 385.30 381.00 385.63 C381.33 385.96 381.67 386.23 382.00 386.53 C382.33 386.82 382.67 387.11 383.00 387.40 C383.33 387.69 383.67 387.98 384.00 388.26 C384.33 388.54 384.67 388.83 385.00 389.11 C385.33 389.39 385.67 389.67 386.00 389.94 C386.33 390.22 386.67 390.50 387.00 390.78 C387.33 391.05 387.67 391.33 388.00 391.60 C388.33 391.88 388.67 392.17 389.00 392.43 C389.33 392.68 389.67 392.90 390.00 393.13 C390.33 393.36 390.67 393.59 391.00 393.81 C391.33 394.04 391.67 394.26 392.00 394.49 C392.33 394.71 392.67 394.94 393.00 395.16 C393.33 395.39 393.67 395.61 394.00 395.84 C394.33 396.06 394.67 396.28 395.00 396.51 C395.33 396.73 395.67 396.96 396.00 397.18 C396.33 397.41 396.67 397.63 397.00 397.86 C397.33 398.08 397.67 398.35 398.00 398.53 C398.33 398.71 398.67 398.81 399.00 398.94 C399.33 399.07 399.67 399.19 400.00 399.31 C400.33 399.44 400.67 399.56 401.00 399.69 C401.33 399.81 401.67 399.94 402.00 400.06 C402.33 400.19 402.67 400.31 403.00 400.44 C403.33 400.56 403.67 400.69 404.00 400.81 C404.33 400.94 404.67 401.09 405.00 401.19 C405.33 401.29 405.67 401.35 406.00 401.41 C406.33 401.47 406.67 401.51 407.00 401.56 C407.33 401.62 407.67 401.67 408.00 401.72 C408.33 401.77 408.67 401.82 409.00 401.88 C409.33 401.93 409.67 401.98 410.00 402.03 C410.33 402.08 410.83 402.16 411.00 402.19" fill="none" stroke="#D83A3A" stroke-width="0.85"/>
<path d="M322.00 402.04 C322.17 402.00 322.67 401.90 323.00 401.80 C323.33 401.71 323.67 401.60 324.00 401.46 C324.33 401.32 324.67 401.17 325.00 400.98 C325.33 400.79 325.67 400.57 326.00 400.31 C326.33 400.04 326.67 399.75 327.00 399.39 C327.33 399.03 327.67 398.64 328.00 398.16 C328.33 397.69 328.67 397.16 329.00 396.54 C329.33 395.92 329.67 395.24 330.00 394.45 C330.33 393.66 330.67 392.78 331.00 391.79 C331.33 390.80 331.67 389.71 332.00 388.48 C332.33 387.26 332.67 385.92 333.00 384.44 C333.33 382.96 333.67 381.36 334.00 379.61 C334.33 377.86 334.67 375.97 335.00 373.95 C335.33 371.92 335.67 369.74 336.00 367.44 C336.33 365.15 336.67 362.70 337.00 360.15 C337.33 357.60 337.67 354.91 338.00 352.15 C338.33 349.39 338.67 346.50 339.00 343.59 C339.33 340.67 339.67 337.66 340.00 334.67 C340.33 331.67 340.67 328.61 341.00 325.63 C341.33 322.65 341.67 319.65 342.00 316.79 C342.33 313.92 342.67 311.08 343.00 308.44 C343.33 305.79 343.67 303.24 344.00 300.92 C344.33 298.60 344.67 296.43 345.00 294.54 C345.33 292.65 345.67 290.96 346.00 289.59 C346.33 288.21 346.67 287.08 347.00 286.28 C347.33 285.48 347.67 284.99 348.00 284.78 C348.33 284.58 348.67 284.72 349.00 285.03 C349.33 285.34 349.67 285.90 350.00 286.65 C350.33 287.41 350.67 288.39 351.00 289.56 C351.33 290.73 351.67 292.12 352.00 293.66 C352.33 295.21 352.67 296.95 353.00 298.82 C353.33 300.69 353.67 302.74 354.00 304.87 C354.33 307.01 354.67 309.29 355.00 311.63 C355.33 313.96 355.67 316.41 356.00 318.88 C356.33 321.35 356.67 323.91 357.00 326.45 C357.33 328.99 357.67 331.58 358.00 334.12 C358.33 336.67 358.67 339.23 359.00 341.73 C359.33 344.23 359.67 346.71 360.00 349.11 C360.33 351.51 360.67 353.87 361.00 356.13 C361.33 358.40 361.67 360.60 362.00 362.70 C362.33 364.79 362.67 366.81 363.00 368.72 C363.33 370.64 363.67 372.45 364.00 374.17 C364.33 375.88 364.67 377.49 365.00 379.01 C365.33 380.52 365.67 381.93 366.00 383.24 C366.33 384.56 366.67 385.77 367.00 386.90 C367.33 388.02 367.67 389.05 368.00 390.00 C368.33 390.96 368.67 391.81 369.00 392.61 C369.33 393.40 369.67 394.11 370.00 394.76 C370.33 395.41 370.67 395.98 371.00 396.51 C371.33 397.04 371.67 397.50 372.00 397.92 C372.33 398.34 372.67 398.71 373.00 399.04 C373.33 399.37 373.67 399.65 374.00 399.91 C374.33 400.17 374.67 400.39 375.00 400.59 C375.33 400.79 375.67 400.95 376.00 401.10 C376.33 401.26 376.67 401.38 377.00 401.49 C377.33 401.61 377.67 401.70 378.00 401.78 C378.33 401.86 378.67 401.93 379.00 401.99 C379.33 402.05 379.83 402.12 380.00 402.15" fill="none" stroke="#222" stroke-width="0.8" stroke-dasharray="2.4 2"/>
<path d="M350.00 401.70 C350.17 401.57 350.67 401.28 351.00 400.90 C351.33 400.52 351.67 400.03 352.00 399.43 C352.33 398.83 352.67 398.03 353.00 397.29 C353.33 396.54 353.67 395.79 354.00 394.97 C354.33 394.16 354.67 393.26 355.00 392.40 C355.33 391.54 355.67 390.69 356.00 389.83 C356.33 388.97 356.67 388.21 357.00 387.26 C357.33 386.31 357.67 385.18 358.00 384.13 C358.33 383.07 358.67 382.00 359.00 380.93 C359.33 379.87 359.67 378.73 360.00 377.74 C360.33 376.74 360.67 375.72 361.00 374.94 C361.33 374.17 361.67 373.70 362.00 373.09 C362.33 372.47 362.67 371.75 363.00 371.23 C363.33 370.71 363.67 370.28 364.00 369.96 C364.33 369.64 364.67 369.51 365.00 369.28 C365.33 369.05 365.67 368.59 366.00 368.60 C366.33 368.61 366.67 369.09 367.00 369.33 C367.33 369.58 367.67 369.82 368.00 370.07 C368.33 370.31 368.67 370.46 369.00 370.80 C369.33 371.14 369.67 371.67 370.00 372.11 C370.33 372.55 370.67 372.98 371.00 373.42 C371.33 373.86 371.67 374.29 372.00 374.73 C372.33 375.17 372.67 375.61 373.00 376.04 C373.33 376.47 373.67 376.89 374.00 377.31 C374.33 377.74 374.67 378.16 375.00 378.58 C375.33 379.00 375.67 379.43 376.00 379.85 C376.33 380.27 376.67 380.69 377.00 381.12 C377.33 381.54 377.67 381.96 378.00 382.38 C378.33 382.81 378.67 383.23 379.00 383.65 C379.33 384.07 379.67 384.55 380.00 384.92 C380.33 385.29 380.67 385.58 381.00 385.87 C381.33 386.17 381.67 386.42 382.00 386.69 C382.33 386.97 382.67 387.24 383.00 387.51 C383.33 387.79 383.67 388.06 384.00 388.33 C384.33 388.61 384.67 388.88 385.00 389.16 C385.33 389.43 385.67 389.70 386.00 389.98 C386.33 390.25 386.67 390.52 387.00 390.80 C387.33 391.07 387.67 391.34 388.00 391.62 C388.33 391.89 388.67 392.18 389.00 392.44 C389.33 392.69 389.67 392.91 390.00 393.14 C390.33 393.37 390.67 393.59 391.00 393.81 C391.33 394.04 391.67 394.26 392.00 394.49 C392.33 394.71 392.67 394.94 393.00 395.16 C393.33 395.39 393.67 395.61 394.00 395.84 C394.33 396.06 394.67 396.29 395.00 396.51 C395.33 396.73 395.67 396.96 396.00 397.18 C396.33 397.41 396.67 397.63 397.00 397.86 C397.33 398.08 397.67 398.35 398.00 398.53 C398.33 398.71 398.67 398.81 399.00 398.94 C399.33 399.07 399.67 399.19 400.00 399.31 C400.33 399.44 400.67 399.56 401.00 399.69 C401.33 399.81 401.67 399.94 402.00 400.06 C402.33 400.19 402.67 400.31 403.00 400.44 C403.33 400.56 403.67 400.69 404.00 400.81 C404.33 400.94 404.67 401.09 405.00 401.19 C405.33 401.29 405.67 401.35 406.00 401.41 C406.33 401.47 406.67 401.51 407.00 401.56 C407.33 401.62 407.67 401.67 408.00 401.72 C408.33 401.77 408.67 401.82 409.00 401.88 C409.33 401.93 409.67 401.98 410.00 402.03 C410.33 402.08 410.83 402.16 411.00 402.19" fill="none" stroke="#222" stroke-width="0.8" stroke-dasharray="2.4 2"/>
<rect x="251.7" y="216.4" width="187.4" height="186.2" fill="none" stroke="#444" stroke-width="1.15"/>
<path d="M275.1 402.6 v-4 M275.1 216.4 v4 M298.6 402.6 v-4 M298.6 216.4 v4 M322.0 402.6 v-4 M322.0 216.4 v4 M345.4 402.6 v-4 M345.4 216.4 v4 M368.8 402.6 v-4 M368.8 216.4 v4 M392.2 402.6 v-4 M392.2 216.4 v4 M415.7 402.6 v-4 M415.7 216.4 v4 M251.7 363.8 h4 M439.1 363.8 h-4 M251.7 325.0 h4 M439.1 325.0 h-4 M251.7 286.2 h4 M439.1 286.2 h-4 M251.7 247.4 h4 M439.1 247.4 h-4 " stroke="#333" stroke-width="1" fill="none"/>
<g fill="#fff" stroke="#383838" stroke-width="0.9"><circle cx="251.5" cy="402.4" r="2.8"/><circle cx="253.8" cy="402.0" r="2.8"/><circle cx="256.2" cy="402.2" r="2.8"/><circle cx="258.5" cy="402.3" r="2.8"/><circle cx="260.9" cy="402.1" r="2.8"/><circle cx="263.2" cy="402.2" r="2.8"/><circle cx="265.5" cy="402.0" r="2.8"/><circle cx="267.9" cy="402.3" r="2.8"/><circle cx="270.2" cy="402.3" r="2.8"/><circle cx="272.6" cy="402.2" r="2.8"/><circle cx="274.9" cy="402.4" r="2.8"/><circle cx="277.2" cy="402.1" r="2.8"/><circle cx="279.6" cy="402.3" r="2.8"/><circle cx="281.9" cy="402.2" r="2.8"/><circle cx="284.3" cy="402.2" r="2.8"/><circle cx="286.6" cy="402.2" r="2.8"/><circle cx="288.9" cy="402.3" r="2.8"/><circle cx="291.3" cy="402.4" r="2.8"/><circle cx="293.6" cy="402.2" r="2.8"/><circle cx="296.0" cy="402.3" r="2.8"/><circle cx="298.3" cy="402.0" r="2.8"/><circle cx="300.6" cy="402.3" r="2.8"/><circle cx="303.0" cy="402.3" r="2.8"/><circle cx="305.3" cy="402.4" r="2.8"/><circle cx="307.7" cy="402.3" r="2.8"/><circle cx="310.0" cy="402.1" r="2.8"/><circle cx="312.3" cy="402.2" r="2.8"/><circle cx="314.7" cy="402.3" r="2.8"/><circle cx="317.0" cy="402.0" r="2.8"/><circle cx="319.4" cy="402.2" r="2.8"/><circle cx="321.7" cy="402.1" r="2.8"/><circle cx="324.0" cy="402.0" r="2.8"/><circle cx="326.4" cy="402.0" r="2.8"/><circle cx="328.7" cy="402.3" r="2.8"/><circle cx="331.1" cy="402.1" r="2.8"/><circle cx="333.4" cy="402.1" r="2.8"/><circle cx="335.7" cy="402.2" r="2.8"/><circle cx="339.5" cy="402.0" r="2.8"/><circle cx="341.9" cy="401.6" r="2.8"/><circle cx="344.2" cy="402.0" r="2.8"/><circle cx="346.5" cy="401.2" r="2.8"/><circle cx="348.8" cy="400.2" r="2.8"/><circle cx="351.6" cy="397.7" r="2.8"/><circle cx="354.3" cy="389.7" r="2.8"/><circle cx="356.4" cy="368.9" r="2.8"/><circle cx="358.5" cy="339.8" r="2.8"/><circle cx="361.4" cy="305.5" r="2.8"/><circle cx="363.8" cy="278.0" r="2.8"/><circle cx="366.3" cy="233.6" r="2.8"/><circle cx="368.1" cy="265.0" r="2.8"/><circle cx="371.0" cy="280.8" r="2.8"/><circle cx="372.9" cy="288.6" r="2.8"/><circle cx="375.8" cy="285.2" r="2.8"/><circle cx="377.6" cy="293.2" r="2.8"/><circle cx="380.5" cy="314.3" r="2.8"/><circle cx="382.1" cy="343.4" r="2.8"/><circle cx="385.3" cy="345.7" r="2.8"/><circle cx="387.1" cy="360.7" r="2.8"/><circle cx="390.1" cy="358.5" r="2.8"/><circle cx="391.9" cy="375.5" r="2.8"/><circle cx="394.0" cy="373.7" r="2.8"/><circle cx="398.1" cy="387.0" r="2.8"/><circle cx="400.8" cy="390.2" r="2.8"/><circle cx="403.0" cy="396.5" r="2.8"/><circle cx="405.3" cy="394.2" r="2.8"/><circle cx="407.7" cy="398.8" r="2.8"/><circle cx="410.0" cy="400.0" r="2.8"/><circle cx="412.4" cy="397.7" r="2.8"/><circle cx="414.7" cy="400.8" r="2.8"/><circle cx="417.0" cy="400.6" r="2.8"/><circle cx="419.4" cy="401.0" r="2.8"/><circle cx="421.2" cy="398.3" r="2.8"/><circle cx="424.0" cy="401.3" r="2.8"/><circle cx="426.4" cy="401.8" r="2.8"/><circle cx="428.7" cy="402.2" r="2.8"/><circle cx="431.0" cy="401.7" r="2.8"/><circle cx="433.4" cy="402.0" r="2.8"/><circle cx="435.7" cy="402.0" r="2.8"/><circle cx="438.1" cy="402.2" r="2.8"/></g>
<g fill="#fff" stroke="#D5484E" stroke-width="0.9"><circle cx="251.7" cy="402.1" r="2.8"/><circle cx="254.0" cy="402.1" r="2.8"/><circle cx="256.4" cy="402.3" r="2.8"/><circle cx="258.7" cy="402.3" r="2.8"/><circle cx="261.1" cy="401.5" r="2.8"/><circle cx="263.4" cy="402.1" r="2.8"/><circle cx="265.7" cy="402.1" r="2.8"/><circle cx="268.1" cy="402.3" r="2.8"/><circle cx="270.4" cy="401.7" r="2.8"/><circle cx="272.8" cy="402.3" r="2.8"/><circle cx="275.1" cy="402.3" r="2.8"/><circle cx="277.4" cy="402.2" r="2.8"/><circle cx="279.8" cy="402.2" r="2.8"/><circle cx="282.1" cy="401.4" r="2.8"/><circle cx="284.5" cy="402.4" r="2.8"/><circle cx="286.8" cy="402.3" r="2.8"/><circle cx="289.1" cy="400.7" r="2.8"/><circle cx="291.5" cy="402.2" r="2.8"/><circle cx="293.8" cy="402.1" r="2.8"/><circle cx="296.2" cy="401.2" r="2.8"/><circle cx="298.5" cy="402.2" r="2.8"/><circle cx="300.8" cy="401.5" r="2.8"/><circle cx="303.2" cy="402.2" r="2.8"/><circle cx="305.5" cy="400.0" r="2.8"/><circle cx="307.9" cy="402.1" r="2.8"/><circle cx="310.2" cy="398.5" r="2.8"/><circle cx="312.5" cy="400.3" r="2.8"/><circle cx="314.9" cy="399.5" r="2.8"/><circle cx="318.5" cy="398.6" r="2.8"/><circle cx="320.7" cy="395.1" r="2.8"/><circle cx="323.0" cy="390.6" r="2.8"/><circle cx="325.7" cy="391.5" r="2.8"/><circle cx="328.0" cy="388.5" r="2.8"/><circle cx="330.2" cy="391.0" r="2.8"/><circle cx="332.2" cy="389.7" r="2.8"/><circle cx="333.4" cy="374.2" r="2.8"/><circle cx="335.6" cy="369.6" r="2.8"/><circle cx="338.1" cy="363.0" r="2.8"/><circle cx="340.4" cy="322.7" r="2.8"/><circle cx="342.6" cy="307.1" r="2.8"/><circle cx="345.1" cy="285.0" r="2.8"/><circle cx="347.7" cy="286.0" r="2.8"/><circle cx="349.7" cy="302.1" r="2.8"/><circle cx="352.1" cy="294.4" r="2.8"/><circle cx="353.8" cy="312.7" r="2.8"/><circle cx="357.1" cy="311.3" r="2.8"/><circle cx="359.1" cy="312.4" r="2.8"/><circle cx="360.7" cy="342.5" r="2.8"/><circle cx="363.3" cy="352.6" r="2.8"/><circle cx="365.7" cy="346.9" r="2.8"/><circle cx="368.4" cy="362.1" r="2.8"/><circle cx="371.0" cy="368.3" r="2.8"/><circle cx="373.2" cy="374.6" r="2.8"/><circle cx="375.5" cy="371.4" r="2.8"/><circle cx="378.2" cy="379.0" r="2.8"/><circle cx="380.3" cy="383.5" r="2.8"/><circle cx="383.0" cy="389.7" r="2.8"/><circle cx="385.7" cy="385.6" r="2.8"/><circle cx="388.0" cy="387.9" r="2.8"/><circle cx="390.1" cy="390.6" r="2.8"/><circle cx="392.8" cy="393.3" r="2.8"/><circle cx="395.5" cy="395.1" r="2.8"/><circle cx="397.8" cy="396.8" r="2.8"/><circle cx="400.8" cy="397.7" r="2.8"/><circle cx="403.2" cy="399.0" r="2.8"/><circle cx="405.5" cy="400.6" r="2.8"/><circle cx="407.8" cy="401.4" r="2.8"/><circle cx="410.2" cy="402.0" r="2.8"/><circle cx="412.5" cy="402.0" r="2.8"/><circle cx="414.9" cy="401.9" r="2.8"/><circle cx="417.2" cy="402.2" r="2.8"/><circle cx="419.6" cy="401.8" r="2.8"/><circle cx="421.9" cy="401.8" r="2.8"/><circle cx="424.2" cy="401.9" r="2.8"/><circle cx="426.6" cy="401.9" r="2.8"/><circle cx="428.9" cy="402.0" r="2.8"/><circle cx="431.3" cy="401.8" r="2.8"/><circle cx="433.6" cy="401.8" r="2.8"/><circle cx="435.9" cy="401.9" r="2.8"/><circle cx="438.3" cy="401.9" r="2.8"/></g>
<text x="251.0" y="208.0" class="pl">c</text>
<text x="275.2" y="209.4" class="tt">GV(M)</text>
<text x="253.7" y="424.4" class="tk" text-anchor="middle">2</text>
<text x="300.6" y="424.4" class="tk" text-anchor="middle">3</text>
<text x="347.4" y="424.4" class="tk" text-anchor="middle">4</text>
<text x="394.2" y="424.4" class="tk" text-anchor="middle">5</text>
<text x="441.1" y="424.4" class="tk" text-anchor="middle">6</text>
<text x="345.7" y="445" class="xl" text-anchor="middle">log FL</text>
</g>
<g>
<path d="M561.5 238.5 V253.5" stroke="#787878" stroke-width="1.35" fill="none"/><path d="M561.5 268.7 V296.5" stroke="#787878" stroke-width="1.35" fill="none"/><path d="M578.5 238.5 V252.3" stroke="#787878" stroke-width="1.35" fill="none"/><path d="M577.0 246.4 H569.6" stroke="#000" stroke-width="2.2" fill="none"/><path d="M564.0 246.4 L570.6 243.0 L570.6 249.8 Z" fill="#000"/><text x="545" y="266.7" class="an">~1/2</text>
<path d="M553.00 402.30 C553.68 402.13 555.82 402.35 557.10 401.30 C558.38 400.25 559.85 398.05 560.70 396.00 C561.55 393.95 561.75 391.67 562.20 389.00 C562.65 386.33 562.77 385.38 563.40 380.00 C564.03 374.62 565.27 364.32 566.00 356.70 C566.73 349.08 567.27 340.85 567.80 334.30 C568.33 327.75 568.52 324.67 569.20 317.40 C569.88 310.13 571.00 299.18 571.90 290.70 C572.80 282.22 573.92 271.73 574.60 266.50 C575.28 261.27 575.57 260.92 576.00 259.30 C576.43 257.68 576.78 256.77 577.20 256.80 C577.62 256.83 578.05 258.02 578.50 259.50 C578.95 260.98 579.22 261.40 579.90 265.70 C580.58 270.00 581.57 277.87 582.60 285.30 C583.63 292.73 584.98 302.68 586.10 310.30 C587.22 317.92 588.18 325.33 589.30 331.00 C590.42 336.67 591.33 339.12 592.80 344.30 C594.27 349.48 596.32 356.47 598.10 362.10 C599.88 367.73 601.72 373.35 603.50 378.10 C605.28 382.85 607.02 387.33 608.80 390.60 C610.58 393.87 612.12 395.98 614.20 397.70 C616.28 399.42 618.33 400.13 621.30 400.90 C624.27 401.67 630.22 402.07 632.00 402.30" fill="none" stroke="#222" stroke-width="0.85"/>
<path d="M506.00 402.16 C506.17 402.14 506.67 402.10 507.00 402.07 C507.33 402.03 507.67 401.99 508.00 401.95 C508.33 401.91 508.67 401.87 509.00 401.82 C509.33 401.77 509.67 401.71 510.00 401.65 C510.33 401.59 510.67 401.53 511.00 401.46 C511.33 401.38 511.67 401.31 512.00 401.22 C512.33 401.14 512.67 401.05 513.00 400.95 C513.33 400.86 513.67 400.75 514.00 400.64 C514.33 400.53 514.67 400.41 515.00 400.28 C515.33 400.15 515.67 400.01 516.00 399.86 C516.33 399.72 516.67 399.56 517.00 399.40 C517.33 399.23 517.67 399.06 518.00 398.88 C518.33 398.70 518.67 398.50 519.00 398.30 C519.33 398.10 519.67 397.89 520.00 397.67 C520.33 397.45 520.67 397.23 521.00 396.99 C521.33 396.75 521.67 396.51 522.00 396.26 C522.33 396.00 522.67 395.74 523.00 395.48 C523.33 395.21 523.67 394.94 524.00 394.66 C524.33 394.39 524.67 394.10 525.00 393.82 C525.33 393.53 525.67 393.24 526.00 392.95 C526.33 392.66 526.67 392.37 527.00 392.08 C527.33 391.78 527.67 391.49 528.00 391.20 C528.33 390.91 528.67 390.62 529.00 390.34 C529.33 390.05 529.67 389.77 530.00 389.50 C530.33 389.22 530.67 388.95 531.00 388.69 C531.33 388.42 531.67 388.16 532.00 387.91 C532.33 387.66 532.67 387.42 533.00 387.18 C533.33 386.94 533.67 386.71 534.00 386.49 C534.33 386.26 534.67 386.04 535.00 385.82 C535.33 385.60 535.67 385.39 536.00 385.17 C536.33 384.95 536.67 384.74 537.00 384.51 C537.33 384.28 537.67 384.04 538.00 383.81 C538.33 383.57 538.67 383.34 539.00 383.11 C539.33 382.88 539.67 382.68 540.00 382.45 C540.33 382.23 540.67 382.01 541.00 381.75 C541.33 381.50 541.67 381.24 542.00 380.92 C542.33 380.60 542.67 380.25 543.00 379.83 C543.33 379.41 543.67 378.94 544.00 378.38 C544.33 377.82 544.67 377.20 545.00 376.46 C545.33 375.73 545.67 374.91 546.00 373.98 C546.33 373.04 546.67 372.01 547.00 370.85 C547.33 369.70 547.67 368.43 548.00 367.06 C548.33 365.68 548.67 364.18 549.00 362.58 C549.33 360.98 549.67 359.27 550.00 357.47 C550.33 355.68 550.67 353.78 551.00 351.82 C551.33 349.87 551.67 347.84 552.00 345.76 C552.33 343.68 552.67 341.49 553.00 339.35 C553.33 337.22 553.67 335.04 554.00 332.93 C554.33 330.83 554.67 328.71 555.00 326.70 C555.33 324.70 555.67 322.75 556.00 320.90 C556.33 319.05 556.67 317.26 557.00 315.61 C557.33 313.95 557.67 312.34 558.00 310.97 C558.33 309.61 558.67 308.39 559.00 307.40 C559.33 306.41 559.67 305.74 560.00 305.04 C560.33 304.34 560.67 303.65 561.00 303.22 C561.33 302.78 561.67 302.53 562.00 302.43 C562.33 302.33 562.67 302.37 563.00 302.61 C563.33 302.84 563.67 303.23 564.00 303.87 C564.33 304.50 564.67 305.48 565.00 306.42 C565.33 307.35 565.67 308.42 566.00 309.48 C566.33 310.55 566.67 311.59 567.00 312.78 C567.33 313.97 567.67 315.28 568.00 316.62 C568.33 317.97 568.67 319.38 569.00 320.86 C569.33 322.33 569.67 323.97 570.00 325.45 C570.33 326.92 570.67 328.35 571.00 329.71 C571.33 331.07 571.67 332.41 572.00 333.63 C572.33 334.85 572.67 336.01 573.00 337.03 C573.33 338.04 573.67 338.77 574.00 339.72 C574.33 340.66 574.67 341.73 575.00 342.70 C575.33 343.66 575.67 344.56 576.00 345.52 C576.33 346.49 576.67 347.46 577.00 348.50 C577.33 349.53 577.67 350.62 578.00 351.73 C578.33 352.83 578.67 353.98 579.00 355.11 C579.33 356.25 579.67 357.41 580.00 358.54 C580.33 359.68 580.67 360.85 581.00 361.93 C581.33 363.01 581.67 364.03 582.00 365.01 C582.33 365.99 582.67 366.91 583.00 367.81 C583.33 368.72 583.67 369.58 584.00 370.43 C584.33 371.27 584.67 372.10 585.00 372.90 C585.33 373.69 585.67 374.46 586.00 375.19 C586.33 375.92 586.67 376.59 587.00 377.28 C587.33 377.97 587.67 378.67 588.00 379.32 C588.33 379.97 588.67 380.66 589.00 381.17 C589.33 381.67 589.67 381.96 590.00 382.35 C590.33 382.74 590.67 383.13 591.00 383.52 C591.33 383.91 591.67 384.31 592.00 384.67 C592.33 385.04 592.67 385.39 593.00 385.73 C593.33 386.08 593.67 386.41 594.00 386.75 C594.33 387.08 594.67 387.42 595.00 387.76 C595.33 388.09 595.67 388.43 596.00 388.77 C596.33 389.10 596.67 389.45 597.00 389.77 C597.33 390.10 597.67 390.43 598.00 390.73 C598.33 391.04 598.67 391.33 599.00 391.62 C599.33 391.92 599.67 392.22 600.00 392.51 C600.33 392.81 600.67 393.11 601.00 393.40 C601.33 393.70 601.67 393.99 602.00 394.29 C602.33 394.59 602.67 394.91 603.00 395.18 C603.33 395.45 603.67 395.65 604.00 395.89 C604.33 396.12 604.67 396.36 605.00 396.60 C605.33 396.83 605.67 397.07 606.00 397.30 C606.33 397.54 606.67 397.77 607.00 398.01 C607.33 398.25 607.67 398.52 608.00 398.72 C608.33 398.92 608.67 399.06 609.00 399.21 C609.33 399.35 609.67 399.47 610.00 399.60 C610.33 399.73 610.67 399.86 611.00 399.99 C611.33 400.13 611.67 400.26 612.00 400.39 C612.33 400.52 612.67 400.67 613.00 400.78 C613.33 400.90 613.67 401.03 614.00 401.10 C614.33 401.18 614.67 401.19 615.00 401.24 C615.33 401.28 615.67 401.33 616.00 401.37 C616.33 401.42 616.67 401.46 617.00 401.51 C617.33 401.55 617.67 401.60 618.00 401.64 C618.33 401.69 618.67 401.73 619.00 401.78 C619.33 401.82 619.67 401.87 620.00 401.91 C620.33 401.95 620.67 402.00 621.00 402.03 C621.33 402.05 621.67 402.05 622.00 402.07 C622.33 402.08 622.67 402.09 623.00 402.11 C623.33 402.12 623.67 402.13 624.00 402.15 C624.33 402.16 624.83 402.18 625.00 402.18" fill="none" stroke="#D83A3A" stroke-width="0.85"/>
<path d="M506.00 402.16 C506.17 402.14 506.67 402.10 507.00 402.07 C507.33 402.03 507.67 401.99 508.00 401.95 C508.33 401.91 508.67 401.87 509.00 401.82 C509.33 401.77 509.67 401.71 510.00 401.65 C510.33 401.59 510.67 401.53 511.00 401.46 C511.33 401.38 511.67 401.31 512.00 401.22 C512.33 401.14 512.67 401.05 513.00 400.95 C513.33 400.86 513.67 400.75 514.00 400.64 C514.33 400.53 514.67 400.41 515.00 400.28 C515.33 400.15 515.67 400.01 516.00 399.86 C516.33 399.72 516.67 399.56 517.00 399.40 C517.33 399.23 517.67 399.06 518.00 398.88 C518.33 398.70 518.67 398.50 519.00 398.30 C519.33 398.10 519.67 397.89 520.00 397.67 C520.33 397.45 520.67 397.23 521.00 396.99 C521.33 396.75 521.67 396.51 522.00 396.26 C522.33 396.01 522.67 395.75 523.00 395.48 C523.33 395.22 523.67 394.94 524.00 394.67 C524.33 394.39 524.67 394.11 525.00 393.83 C525.33 393.54 525.67 393.26 526.00 392.97 C526.33 392.68 526.67 392.39 527.00 392.10 C527.33 391.81 527.67 391.53 528.00 391.24 C528.33 390.96 528.67 390.68 529.00 390.40 C529.33 390.13 529.67 389.86 530.00 389.60 C530.33 389.34 530.67 389.09 531.00 388.85 C531.33 388.61 531.67 388.38 532.00 388.16 C532.33 387.94 532.67 387.74 533.00 387.55 C533.33 387.36 533.67 387.19 534.00 387.03 C534.33 386.88 534.67 386.74 535.00 386.62 C535.33 386.50 535.67 386.40 536.00 386.32 C536.33 386.24 536.67 386.17 537.00 386.13 C537.33 386.09 537.67 386.05 538.00 386.07 C538.33 386.09 538.67 386.12 539.00 386.22 C539.33 386.32 539.67 386.48 540.00 386.68 C540.33 386.87 540.67 387.12 541.00 387.40 C541.33 387.68 541.67 388.01 542.00 388.36 C542.33 388.71 542.67 389.10 543.00 389.51 C543.33 389.91 543.67 390.34 544.00 390.78 C544.33 391.22 544.67 391.67 545.00 392.13 C545.33 392.58 545.67 393.04 546.00 393.49 C546.33 393.94 546.67 394.39 547.00 394.82 C547.33 395.25 547.67 395.67 548.00 396.07 C548.33 396.47 548.67 396.86 549.00 397.22 C549.33 397.58 549.67 397.93 550.00 398.25 C550.33 398.56 550.67 398.86 551.00 399.13 C551.33 399.41 551.67 399.66 552.00 399.89 C552.33 400.12 552.67 400.32 553.00 400.51 C553.33 400.70 553.67 400.86 554.00 401.01 C554.33 401.16 554.67 401.29 555.00 401.41 C555.33 401.53 555.67 401.62 556.00 401.71 C556.33 401.80 556.67 401.88 557.00 401.94 C557.33 402.01 557.83 402.09 558.00 402.11" fill="none" stroke="#222" stroke-width="0.8" stroke-dasharray="2.4 2"/>
<path d="M536.00 401.35 C536.17 401.27 536.67 401.06 537.00 400.88 C537.33 400.69 537.67 400.49 538.00 400.24 C538.33 399.99 538.67 399.71 539.00 399.39 C539.33 399.06 539.67 398.70 540.00 398.28 C540.33 397.86 540.67 397.39 541.00 396.85 C541.33 396.32 541.67 395.73 542.00 395.06 C542.33 394.39 542.67 393.65 543.00 392.83 C543.33 392.00 543.67 391.10 544.00 390.10 C544.33 389.10 544.67 388.02 545.00 386.84 C545.33 385.65 545.67 384.37 546.00 382.99 C546.33 381.61 546.67 380.12 547.00 378.54 C547.33 376.95 547.67 375.26 548.00 373.48 C548.33 371.71 548.67 369.82 549.00 367.86 C549.33 365.90 549.67 363.84 550.00 361.73 C550.33 359.62 550.67 357.41 551.00 355.19 C551.33 352.96 551.67 350.66 552.00 348.37 C552.33 346.08 552.67 343.74 553.00 341.44 C553.33 339.14 553.67 336.82 554.00 334.59 C554.33 332.36 554.67 330.14 555.00 328.04 C555.33 325.94 555.67 323.89 556.00 322.00 C556.33 320.11 556.67 318.31 557.00 316.70 C557.33 315.09 557.67 313.61 558.00 312.34 C558.33 311.07 558.67 309.96 559.00 309.09 C559.33 308.21 559.67 307.53 560.00 307.08 C560.33 306.63 560.67 306.38 561.00 306.40 C561.33 306.42 561.67 306.68 562.00 307.23 C562.33 307.77 562.67 308.61 563.00 309.67 C563.33 310.73 563.67 312.08 564.00 313.60 C564.33 315.13 564.67 316.91 565.00 318.83 C565.33 320.75 565.67 322.88 566.00 325.10 C566.33 327.32 566.67 329.71 567.00 332.13 C567.33 334.55 567.67 337.10 568.00 339.62 C568.33 342.14 568.67 344.74 569.00 347.28 C569.33 349.81 569.67 352.37 570.00 354.83 C570.33 357.30 570.67 359.74 571.00 362.06 C571.33 364.39 571.67 366.65 572.00 368.78 C572.33 370.92 572.67 372.96 573.00 374.87 C573.33 376.78 573.67 378.58 574.00 380.25 C574.33 381.92 574.67 383.46 575.00 384.89 C575.33 386.31 575.67 387.61 576.00 388.80 C576.33 389.99 576.67 391.05 577.00 392.02 C577.33 392.99 577.67 393.85 578.00 394.63 C578.33 395.40 578.67 396.07 579.00 396.68 C579.33 397.29 579.67 397.81 580.00 398.28 C580.33 398.74 580.67 399.14 581.00 399.49 C581.33 399.84 581.67 400.13 582.00 400.39 C582.33 400.65 582.67 400.86 583.00 401.04 C583.33 401.23 583.67 401.38 584.00 401.51 C584.33 401.65 584.67 401.75 585.00 401.84 C585.33 401.94 585.83 402.03 586.00 402.07" fill="none" stroke="#222" stroke-width="0.8" stroke-dasharray="2.4 2"/>
<path d="M556.00 402.18 C556.17 402.15 556.67 402.07 557.00 401.96 C557.33 401.85 557.67 401.67 558.00 401.52 C558.33 401.37 558.67 401.23 559.00 401.08 C559.33 400.93 559.67 400.91 560.00 400.64 C560.33 400.36 560.67 399.91 561.00 399.43 C561.33 398.95 561.67 398.43 562.00 397.78 C562.33 397.12 562.67 396.31 563.00 395.48 C563.33 394.65 563.67 393.69 564.00 392.79 C564.33 391.90 564.67 391.09 565.00 390.10 C565.33 389.12 565.67 388.05 566.00 386.89 C566.33 385.74 566.67 384.39 567.00 383.16 C567.33 381.93 567.67 380.68 568.00 379.50 C568.33 378.33 568.67 377.15 569.00 376.08 C569.33 375.01 569.67 374.10 570.00 373.11 C570.33 372.12 570.67 371.11 571.00 370.15 C571.33 369.19 571.67 368.26 572.00 367.35 C572.33 366.43 572.67 365.55 573.00 364.66 C573.33 363.76 573.67 362.69 574.00 361.97 C574.33 361.24 574.67 360.77 575.00 360.31 C575.33 359.85 575.67 359.45 576.00 359.23 C576.33 359.01 576.67 358.91 577.00 358.98 C577.33 359.04 577.67 359.27 578.00 359.60 C578.33 359.93 578.67 360.40 579.00 360.93 C579.33 361.46 579.67 362.10 580.00 362.77 C580.33 363.44 580.67 364.22 581.00 364.94 C581.33 365.67 581.67 366.40 582.00 367.12 C582.33 367.84 582.67 368.55 583.00 369.27 C583.33 369.98 583.67 370.70 584.00 371.41 C584.33 372.13 584.67 372.85 585.00 373.55 C585.33 374.26 585.67 374.95 586.00 375.62 C586.33 376.28 586.67 376.91 587.00 377.56 C587.33 378.20 587.67 378.88 588.00 379.50 C588.33 380.12 588.67 380.79 589.00 381.28 C589.33 381.76 589.67 382.04 590.00 382.42 C590.33 382.80 590.67 383.18 591.00 383.56 C591.33 383.94 591.67 384.33 592.00 384.70 C592.33 385.06 592.67 385.40 593.00 385.75 C593.33 386.09 593.67 386.42 594.00 386.75 C594.33 387.09 594.67 387.42 595.00 387.76 C595.33 388.10 595.67 388.43 596.00 388.77 C596.33 389.10 596.67 389.45 597.00 389.78 C597.33 390.10 597.67 390.43 598.00 390.74 C598.33 391.04 598.67 391.33 599.00 391.62 C599.33 391.92 599.67 392.22 600.00 392.51 C600.33 392.81 600.67 393.11 601.00 393.40 C601.33 393.70 601.67 393.99 602.00 394.29 C602.33 394.59 602.67 394.91 603.00 395.18 C603.33 395.45 603.67 395.65 604.00 395.89 C604.33 396.12 604.67 396.36 605.00 396.60 C605.33 396.83 605.67 397.07 606.00 397.30 C606.33 397.54 606.67 397.77 607.00 398.01 C607.33 398.25 607.67 398.52 608.00 398.72 C608.33 398.92 608.67 399.06 609.00 399.21 C609.33 399.35 609.67 399.47 610.00 399.60 C610.33 399.73 610.67 399.86 611.00 400.00 C611.33 400.13 611.67 400.26 612.00 400.39 C612.33 400.52 612.67 400.67 613.00 400.78 C613.33 400.90 613.67 401.03 614.00 401.10 C614.33 401.18 614.67 401.19 615.00 401.24 C615.33 401.28 615.67 401.33 616.00 401.37 C616.33 401.42 616.67 401.46 617.00 401.51 C617.33 401.55 617.67 401.60 618.00 401.64 C618.33 401.69 618.67 401.73 619.00 401.78 C619.33 401.82 619.67 401.87 620.00 401.91 C620.33 401.95 620.67 402.00 621.00 402.03 C621.33 402.05 621.67 402.05 622.00 402.07 C622.33 402.08 622.67 402.09 623.00 402.11 C623.33 402.12 623.67 402.13 624.00 402.15 C624.33 402.16 624.83 402.18 625.00 402.18" fill="none" stroke="#222" stroke-width="0.8" stroke-dasharray="2.4 2"/>
<rect x="459.7" y="216.4" width="187.9" height="186.2" fill="none" stroke="#444" stroke-width="1.15"/>
<path d="M483.2 402.6 v-4 M483.2 216.4 v4 M506.7 402.6 v-4 M506.7 216.4 v4 M530.2 402.6 v-4 M530.2 216.4 v4 M553.6 402.6 v-4 M553.6 216.4 v4 M577.1 402.6 v-4 M577.1 216.4 v4 M600.6 402.6 v-4 M600.6 216.4 v4 M624.1 402.6 v-4 M624.1 216.4 v4 M459.7 363.8 h4 M647.6 363.8 h-4 M459.7 325.0 h4 M647.6 325.0 h-4 M459.7 286.2 h4 M647.6 286.2 h-4 M459.7 247.4 h4 M647.6 247.4 h-4 " stroke="#333" stroke-width="1" fill="none"/>
<g fill="#fff" stroke="#383838" stroke-width="0.9"><circle cx="459.7" cy="402.1" r="2.8"/><circle cx="462.0" cy="402.0" r="2.8"/><circle cx="464.4" cy="402.3" r="2.8"/><circle cx="466.7" cy="402.2" r="2.8"/><circle cx="469.1" cy="402.1" r="2.8"/><circle cx="471.4" cy="402.1" r="2.8"/><circle cx="473.7" cy="402.1" r="2.8"/><circle cx="476.1" cy="402.1" r="2.8"/><circle cx="478.4" cy="402.0" r="2.8"/><circle cx="480.8" cy="402.3" r="2.8"/><circle cx="483.1" cy="402.4" r="2.8"/><circle cx="485.4" cy="402.2" r="2.8"/><circle cx="487.8" cy="402.2" r="2.8"/><circle cx="490.1" cy="402.0" r="2.8"/><circle cx="492.5" cy="402.0" r="2.8"/><circle cx="494.8" cy="402.1" r="2.8"/><circle cx="497.1" cy="402.1" r="2.8"/><circle cx="499.5" cy="402.3" r="2.8"/><circle cx="501.8" cy="402.1" r="2.8"/><circle cx="504.2" cy="402.0" r="2.8"/><circle cx="506.5" cy="402.4" r="2.8"/><circle cx="508.8" cy="402.2" r="2.8"/><circle cx="511.2" cy="402.1" r="2.8"/><circle cx="513.5" cy="402.2" r="2.8"/><circle cx="515.9" cy="402.0" r="2.8"/><circle cx="518.2" cy="402.2" r="2.8"/><circle cx="520.5" cy="402.4" r="2.8"/><circle cx="522.9" cy="402.3" r="2.8"/><circle cx="525.2" cy="402.3" r="2.8"/><circle cx="527.6" cy="402.1" r="2.8"/><circle cx="529.9" cy="402.1" r="2.8"/><circle cx="532.2" cy="402.1" r="2.8"/><circle cx="534.6" cy="402.3" r="2.8"/><circle cx="536.9" cy="402.2" r="2.8"/><circle cx="539.3" cy="402.3" r="2.8"/><circle cx="541.6" cy="402.1" r="2.8"/><circle cx="543.9" cy="402.1" r="2.8"/><circle cx="547.4" cy="402.0" r="2.8"/><circle cx="549.8" cy="401.6" r="2.8"/><circle cx="552.1" cy="402.0" r="2.8"/><circle cx="554.4" cy="401.3" r="2.8"/><circle cx="556.8" cy="398.6" r="2.8"/><circle cx="560.0" cy="397.7" r="2.8"/><circle cx="562.0" cy="384.7" r="2.8"/><circle cx="565.2" cy="351.7" r="2.8"/><circle cx="567.4" cy="330.8" r="2.8"/><circle cx="569.6" cy="292.8" r="2.8"/><circle cx="572.2" cy="271.4" r="2.8"/><circle cx="574.2" cy="283.9" r="2.8"/><circle cx="578.5" cy="271.4" r="2.8"/><circle cx="581.7" cy="288.9" r="2.8"/><circle cx="583.5" cy="307.6" r="2.8"/><circle cx="586.1" cy="311.1" r="2.8"/><circle cx="588.3" cy="322.4" r="2.8"/><circle cx="590.6" cy="341.6" r="2.8"/><circle cx="593.7" cy="339.8" r="2.8"/><circle cx="595.5" cy="353.2" r="2.8"/><circle cx="597.8" cy="363.9" r="2.8"/><circle cx="599.9" cy="371.9" r="2.8"/><circle cx="602.2" cy="373.7" r="2.8"/><circle cx="605.3" cy="381.7" r="2.8"/><circle cx="607.0" cy="388.8" r="2.8"/><circle cx="609.3" cy="396.5" r="2.8"/><circle cx="611.5" cy="387.9" r="2.8"/><circle cx="613.8" cy="399.0" r="2.8"/><circle cx="616.0" cy="395.1" r="2.8"/><circle cx="619.5" cy="395.6" r="2.8"/><circle cx="621.8" cy="400.5" r="2.8"/><circle cx="624.0" cy="398.6" r="2.8"/><circle cx="626.4" cy="401.0" r="2.8"/><circle cx="628.7" cy="401.3" r="2.8"/><circle cx="631.0" cy="401.0" r="2.8"/><circle cx="632.9" cy="399.3" r="2.8"/><circle cx="635.3" cy="401.3" r="2.8"/><circle cx="637.6" cy="401.5" r="2.8"/><circle cx="640.0" cy="399.3" r="2.8"/><circle cx="642.4" cy="401.6" r="2.8"/><circle cx="644.8" cy="402.1" r="2.8"/><circle cx="647.1" cy="402.2" r="2.8"/></g>
<g fill="#fff" stroke="#D5484E" stroke-width="0.9"><circle cx="459.7" cy="401.9" r="2.8"/><circle cx="462.0" cy="401.9" r="2.8"/><circle cx="464.4" cy="401.9" r="2.8"/><circle cx="466.7" cy="401.9" r="2.8"/><circle cx="469.1" cy="402.0" r="2.8"/><circle cx="471.4" cy="400.9" r="2.8"/><circle cx="473.7" cy="401.5" r="2.8"/><circle cx="476.1" cy="401.5" r="2.8"/><circle cx="478.4" cy="401.4" r="2.8"/><circle cx="480.8" cy="400.6" r="2.8"/><circle cx="483.1" cy="400.9" r="2.8"/><circle cx="485.4" cy="400.5" r="2.8"/><circle cx="487.8" cy="399.3" r="2.8"/><circle cx="490.1" cy="400.3" r="2.8"/><circle cx="492.5" cy="399.8" r="2.8"/><circle cx="494.8" cy="399.0" r="2.8"/><circle cx="497.1" cy="399.5" r="2.8"/><circle cx="499.5" cy="399.6" r="2.8"/><circle cx="501.8" cy="399.5" r="2.8"/><circle cx="504.2" cy="398.5" r="2.8"/><circle cx="506.5" cy="399.2" r="2.8"/><circle cx="508.8" cy="399.0" r="2.8"/><circle cx="511.2" cy="398.6" r="2.8"/><circle cx="513.2" cy="396.8" r="2.8"/><circle cx="515.5" cy="398.0" r="2.8"/><circle cx="516.7" cy="396.8" r="2.8"/><circle cx="519.0" cy="398.3" r="2.8"/><circle cx="521.2" cy="397.7" r="2.8"/><circle cx="523.0" cy="398.6" r="2.8"/><circle cx="526.5" cy="392.4" r="2.8"/><circle cx="529.2" cy="393.3" r="2.8"/><circle cx="531.0" cy="390.6" r="2.8"/><circle cx="533.7" cy="388.5" r="2.8"/><circle cx="536.7" cy="386.1" r="2.8"/><circle cx="539.0" cy="382.9" r="2.8"/><circle cx="541.7" cy="380.8" r="2.8"/><circle cx="543.5" cy="375.5" r="2.8"/><circle cx="546.7" cy="357.6" r="2.8"/><circle cx="549.2" cy="357.6" r="2.8"/><circle cx="550.6" cy="330.9" r="2.8"/><circle cx="551.4" cy="329.9" r="2.8"/><circle cx="553.2" cy="309.4" r="2.8"/><circle cx="555.8" cy="306.2" r="2.8"/><circle cx="557.6" cy="322.7" r="2.8"/><circle cx="560.7" cy="281.2" r="2.8"/><circle cx="561.7" cy="301.7" r="2.8"/><circle cx="562.6" cy="314.7" r="2.8"/><circle cx="565.1" cy="300.1" r="2.8"/><circle cx="566.9" cy="327.2" r="2.8"/><circle cx="568.7" cy="330.9" r="2.8"/><circle cx="570.1" cy="329.9" r="2.8"/><circle cx="571.4" cy="332.7" r="2.8"/><circle cx="574.1" cy="338.0" r="2.8"/><circle cx="576.7" cy="343.4" r="2.8"/><circle cx="578.5" cy="357.6" r="2.8"/><circle cx="581.2" cy="364.8" r="2.8"/><circle cx="583.9" cy="373.7" r="2.8"/><circle cx="586.5" cy="365.7" r="2.8"/><circle cx="588.3" cy="371.9" r="2.8"/><circle cx="591.0" cy="379.0" r="2.8"/><circle cx="592.8" cy="384.4" r="2.8"/><circle cx="595.5" cy="391.5" r="2.8"/><circle cx="598.1" cy="390.6" r="2.8"/><circle cx="600.8" cy="395.1" r="2.8"/><circle cx="602.6" cy="396.0" r="2.8"/><circle cx="604.8" cy="397.6" r="2.8"/><circle cx="607.0" cy="398.6" r="2.8"/><circle cx="609.4" cy="400.0" r="2.8"/><circle cx="611.7" cy="400.6" r="2.8"/><circle cx="614.0" cy="401.8" r="2.8"/><circle cx="616.3" cy="401.9" r="2.8"/><circle cx="618.7" cy="401.1" r="2.8"/><circle cx="621.0" cy="401.9" r="2.8"/><circle cx="623.4" cy="401.9" r="2.8"/><circle cx="625.7" cy="401.6" r="2.8"/><circle cx="628.0" cy="401.9" r="2.8"/><circle cx="630.4" cy="401.8" r="2.8"/><circle cx="632.7" cy="401.1" r="2.8"/><circle cx="635.1" cy="401.9" r="2.8"/><circle cx="637.4" cy="402.0" r="2.8"/><circle cx="639.7" cy="401.6" r="2.8"/><circle cx="642.1" cy="401.9" r="2.8"/><circle cx="644.4" cy="402.1" r="2.8"/><circle cx="646.8" cy="401.9" r="2.8"/></g>
<text x="460.4" y="208.4" class="pl">d</text>
<text x="482.6" y="209.4" class="tt">GV(L)</text>
<text x="462.9" y="424.4" class="tk" text-anchor="middle">2</text>
<text x="509.9" y="424.4" class="tk" text-anchor="middle">3</text>
<text x="556.9" y="424.4" class="tk" text-anchor="middle">4</text>
<text x="603.8" y="424.4" class="tk" text-anchor="middle">5</text>
<text x="650.8" y="424.4" class="tk" text-anchor="middle">6</text>
<text x="554.7" y="445" class="xl" text-anchor="middle">log FL</text>
</g>
<text transform="translate(12.8 355.2) rotate(-90)" class="yl" style="font-size:15.9px">Population (%)</text>
</svg></body></html>
